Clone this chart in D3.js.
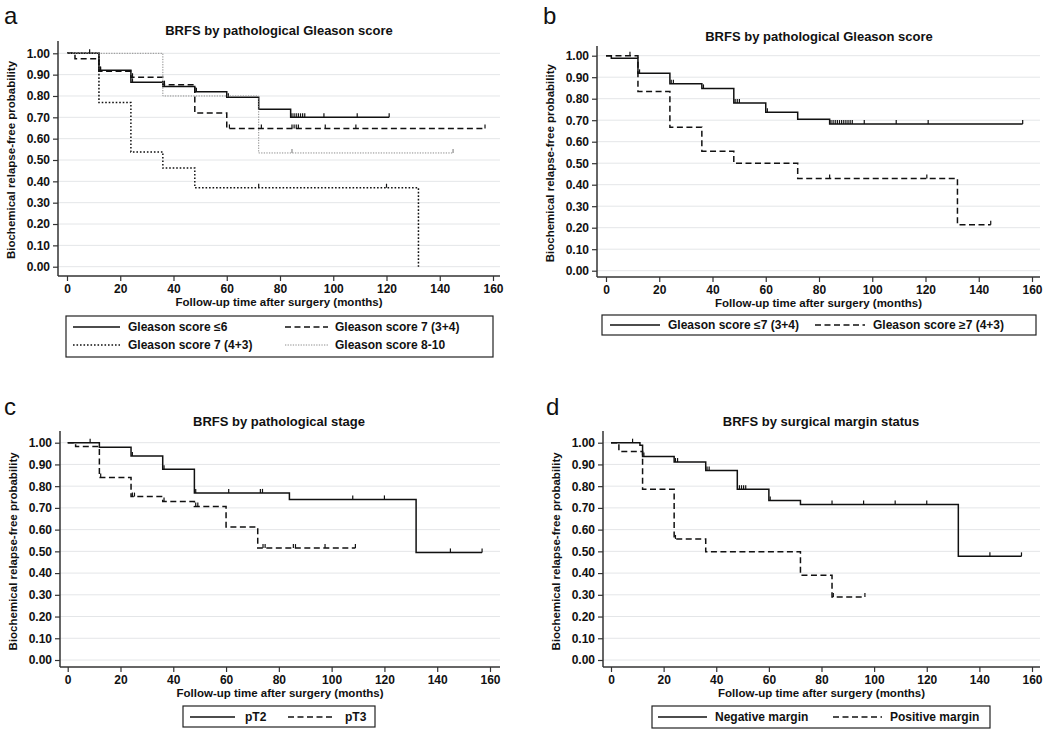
<!DOCTYPE html>
<html>
<head>
<meta charset="utf-8">
<script src="https://cdn.jsdelivr.net/npm/d3@7"></script>
<style>
body { margin: 0; background: #fff; }
svg { display: block; font-family: "Liberation Sans", Arial, Helvetica, sans-serif; }
</style>
</head>
<body>
<svg id="chart" width="1050" height="736"></svg>
<script>
// ---- data ----
const xTicks = [0, 20, 40, 60, 80, 100, 120, 140, 160];
const yTicks = [0, 0.1, 0.2, 0.3, 0.4, 0.5, 0.6, 0.7, 0.8, 0.9, 1.0];
const xTitle = "Follow-up time after surgery (months)";
const yTitle = "Biochemical relapse-free probability";

// a: by pathological Gleason score (4 groups)
const aLabels = ["Gleason score \u22646", "Gleason score 7 (3+4)", "Gleason score 7 (4+3)", "Gleason score 8-10"];
const aLe6Times = [0, 12, 24, 36, 48, 60, 72, 84, 121];
const aLe6Surv = [1, 0.92, 0.864, 0.844, 0.82, 0.794, 0.738, 0.70, 0.70];
const aLe6Cens = [8.5, 12.6, 24.6, 36.6, 48.6, 60.6, 84.5, 85.3, 86.1, 86.9, 87.7, 88.5, 89.3, 96.5, 109, 121];
const a34Times = [0, 3, 12, 24, 36, 48, 60, 157];
const a34Surv = [1, 0.975, 0.916, 0.888, 0.853, 0.72, 0.648, 0.648];
const a34Cens = [12.6, 24.6, 36.6, 61, 73, 84.5, 85.3, 86.1, 86.9, 97, 108.5, 157];
const a43Times = [0, 12, 24, 36, 48, 132];
const a43Surv = [1, 0.769, 0.538, 0.462, 0.37, 0];
const a43Cens = [72, 120];
const a810Times = [0, 36, 72, 145];
const a810Surv = [1, 0.8, 0.533, 0.533];
const a810Cens = [84.5, 145];

// b: Gleason <=7 (3+4) vs >=7 (4+3)
const bLabels = ["Gleason score \u22647 (3+4)", "Gleason score \u22657 (4+3)"];
const bLowTimes = [0, 2, 12, 24, 36, 48, 60, 72, 84, 156.5];
const bLowSurv = [1, 0.988, 0.918, 0.87, 0.848, 0.78, 0.737, 0.704, 0.682, 0.682];
const bLowCens = [12.6, 24.5, 25.3, 36.6, 48.5, 49.3, 50.1, 60.6, 84.5, 85.3, 86.1, 86.9, 87.7, 88.5, 89.3, 90.1, 90.9, 91.7, 92.5, 97, 109, 121, 156.5];
const bHighTimes = [0, 12, 24, 36, 48, 72, 132, 144.5];
const bHighSurv = [1, 0.833, 0.667, 0.556, 0.5, 0.429, 0.214, 0.214];
const bHighCens = [9, 84, 120.5, 144.5];

// c: by pathological stage
const cLabels = ["pT2", "pT3"];
const cT2Times = [0, 12, 24, 36, 48, 84, 132, 157];
const cT2Surv = [1, 0.979, 0.939, 0.878, 0.769, 0.739, 0.495, 0.495];
const cT2Cens = [8.5, 24.5, 36.5, 48.5, 61, 73, 73.8, 108, 120, 145, 157];
const cT3Times = [0, 3, 12, 24, 36, 48, 60, 72, 109];
const cT3Surv = [1, 0.982, 0.84, 0.752, 0.729, 0.706, 0.612, 0.515, 0.515];
const cT3Cens = [12.5, 24.5, 25.3, 36.5, 48.5, 49.3, 74, 74.8, 85.5, 86.3, 97.5, 109];

// d: by surgical margin status
const dLabels = ["Negative margin", "Positive margin"];
const dNegTimes = [0, 11, 12, 24, 36, 48, 60, 72, 132, 156];
const dNegSurv = [1, 0.988, 0.936, 0.911, 0.872, 0.786, 0.734, 0.716, 0.477, 0.477];
const dNegCens = [8.2, 12.5, 24.5, 25.3, 36.5, 37.3, 48.8, 49.6, 50.4, 51.2, 60.5, 84, 96, 108, 120, 144, 156];
const dPosTimes = [0, 3, 12, 24, 36, 72, 84, 96.5];
const dPosSurv = [1, 0.96, 0.786, 0.557, 0.498, 0.39, 0.29, 0.29];
const dPosCens = [24.5, 84.5, 96.5];

// ---- styles ----
const styles = {
  solid:  { stroke: "#111", width: 1.5, dash: null },
  dashed: { stroke: "#111", width: 1.5, dash: "6,3.5" },
  dotted: { stroke: "#111", width: 1.5, dash: "1.6,1.9" },
  gray:   { stroke: "#8c8c8c", width: 1, dash: "1.3,1.3" }
};

const panels = [
  { letter: "a", title: "BRFS by pathological Gleason score",
    series: [
      { t: aLe6Times, s: aLe6Surv, c: aLe6Cens, label: aLabels[0], style: "solid" },
      { t: a34Times, s: a34Surv, c: a34Cens, label: aLabels[1], style: "dashed" },
      { t: a43Times, s: a43Surv, c: a43Cens, label: aLabels[2], style: "dotted" },
      { t: a810Times, s: a810Surv, c: a810Cens, label: aLabels[3], style: "gray" }
    ],
    lay: { x0: 67, x160: 493, y1: 53.3, y0: 266.7, axisX: 58, axisTop: 41, axisY: 276, right: 500,
      titleX: 279, titleY: 35, letterX: 4, letterY: 24,
      legend: { x: 66, y: 316, w: 427, h: 41, items: [
        { x1: 73, x2: 120, tx: 128, ty: 331 }, { x1: 285, x2: 328, tx: 335, ty: 331 },
        { x1: 73, x2: 120, tx: 128, ty: 349 }, { x1: 285, x2: 328, tx: 335, ty: 349 } ] } } },
  { letter: "b", title: "BRFS by pathological Gleason score",
    series: [
      { t: bLowTimes, s: bLowSurv, c: bLowCens, label: bLabels[0], style: "solid" },
      { t: bHighTimes, s: bHighSurv, c: bHighCens, label: bLabels[1], style: "dashed" }
    ],
    lay: { x0: 606, x160: 1032, y1: 55.7, y0: 270.7, axisX: 597, axisTop: 46, axisY: 277, right: 1040,
      titleX: 819, titleY: 41, letterX: 543, letterY: 24,
      legend: { x: 602, y: 315, w: 434, h: 20, items: [
        { x1: 610, x2: 660, tx: 668, ty: 329 }, { x1: 815, x2: 865, tx: 873, ty: 329 } ] } } },
  { letter: "c", title: "BRFS by pathological stage",
    series: [
      { t: cT2Times, s: cT2Surv, c: cT2Cens, label: cLabels[0], style: "solid" },
      { t: cT3Times, s: cT3Surv, c: cT3Cens, label: cLabels[1], style: "dashed" }
    ],
    lay: { x0: 67.7, x160: 490, y1: 442.7, y0: 660, axisX: 60, axisTop: 431, axisY: 667, right: 500,
      titleX: 279, titleY: 426, letterX: 4, letterY: 415,
      legend: { x: 183, y: 706, w: 192, h: 21, items: [
        { x1: 190, x2: 235, tx: 245, ty: 721 }, { x1: 288, x2: 332, tx: 345, ty: 721 } ] } } },
  { letter: "d", title: "BRFS by surgical margin status",
    series: [
      { t: dNegTimes, s: dNegSurv, c: dNegCens, label: dLabels[0], style: "solid" },
      { t: dPosTimes, s: dPosSurv, c: dPosCens, label: dLabels[1], style: "dashed" }
    ],
    lay: { x0: 611, x160: 1032, y1: 442.7, y0: 660, axisX: 603, axisTop: 431, axisY: 667, right: 1040,
      titleX: 821, titleY: 426, letterX: 546, letterY: 415,
      legend: { x: 652, y: 706, w: 338, h: 22, items: [
        { x1: 658, x2: 707, tx: 715, ty: 721 }, { x1: 833, x2: 882, tx: 890, ty: 721 } ] } } }
];

const svg = d3.select("#chart");
svg.append("rect").attr("width", 1050).attr("height", 736).attr("fill", "#fff");

function survAt(times, surv, t) {
  let v = surv[0];
  for (let i = 0; i < times.length; i++) if (times[i] <= t) v = surv[i];
  return v;
}

function drawPanel(p) {
  const L = p.lay;
  const g = svg.append("g");
  const x = d3.scaleLinear().domain([0, 160]).range([L.x0, L.x160]);
  const y = d3.scaleLinear().domain([0, 1]).range([L.y0, L.y1]);

  // grid
  g.append("g").selectAll("line").data(yTicks).enter().append("line")
    .attr("x1", L.axisX).attr("x2", L.right)
    .attr("y1", d => y(d)).attr("y2", d => y(d))
    .attr("stroke", "#e4e6e8").attr("stroke-width", 1);

  // axes
  const yAx = g.append("g").attr("transform", `translate(${L.axisX},0)`)
    .call(d3.axisLeft(y).tickValues(yTicks).tickFormat(d3.format(".2f")).tickSize(5).tickSizeOuter(0).tickPadding(3));
  const xAx = g.append("g").attr("transform", `translate(0,${L.axisY})`)
    .call(d3.axisBottom(x).tickValues(xTicks).tickSize(5).tickSizeOuter(0).tickPadding(3));
  [yAx, xAx].forEach(a => {
    a.select(".domain").remove();
    a.selectAll(".tick line").attr("stroke", "#333").attr("stroke-width", 1.2);
    a.selectAll(".tick text").attr("fill", "#111").style("font-size", "12px").style("font-weight", "bold");
  });
  g.append("line").attr("x1", L.axisX).attr("x2", L.axisX).attr("y1", L.axisTop).attr("y2", L.axisY)
    .attr("stroke", "#333").attr("stroke-width", 1.5);
  g.append("line").attr("x1", L.axisX).attr("x2", L.right).attr("y1", L.axisY).attr("y2", L.axisY)
    .attr("stroke", "#333").attr("stroke-width", 1.5);

  // titles
  g.append("text").attr("x", L.letterX).attr("y", L.letterY).text(p.letter)
    .style("font-size", "24px").attr("fill", "#111");
  g.append("text").attr("x", L.titleX).attr("y", L.titleY).attr("text-anchor", "middle").text(p.title)
    .style("font-size", "13px").style("font-weight", "bold").attr("fill", "#111");
  g.append("text").attr("x", (L.axisX + L.right) / 2).attr("y", L.axisY + 30).attr("text-anchor", "middle")
    .text(xTitle).style("font-size", "11.5px").style("font-weight", "bold").attr("fill", "#111");
  const ym = (L.y0 + L.y1) / 2;
  g.append("text").attr("transform", `translate(${L.axisX - 43},${ym}) rotate(-90)`).attr("text-anchor", "middle")
    .text(yTitle).style("font-size", "11.5px").style("font-weight", "bold").attr("fill", "#111");

  // curves
  const line = d3.line().x(d => x(d[0])).y(d => y(d[1])).curve(d3.curveStepAfter);
  p.series.forEach(s => {
    const st = styles[s.style];
    const pts = s.t.map((t, i) => [t, s.s[i]]);
    g.append("path").attr("d", line(pts)).attr("fill", "none")
      .attr("stroke", st.stroke).attr("stroke-width", st.width)
      .attr("stroke-dasharray", st.dash);
    g.append("g").selectAll("line").data(s.c).enter().append("line")
      .attr("x1", d => x(d)).attr("x2", d => x(d))
      .attr("y1", d => y(survAt(s.t, s.s, d))).attr("y2", d => y(survAt(s.t, s.s, d)) - 4)
      .attr("stroke", st.stroke).attr("stroke-width", 1.2);
  });

  // legend
  const lg = L.legend;
  g.append("rect").attr("x", lg.x).attr("y", lg.y).attr("width", lg.w).attr("height", lg.h)
    .attr("fill", "none").attr("stroke", "#222").attr("stroke-width", 1.2);
  p.series.forEach((s, i) => {
    const it = lg.items[i];
    const st = styles[s.style];
    g.append("line").attr("x1", it.x1).attr("x2", it.x2).attr("y1", it.ty - 4).attr("y2", it.ty - 4)
      .attr("stroke", st.stroke).attr("stroke-width", st.width).attr("stroke-dasharray", st.dash);
    g.append("text").attr("x", it.tx).attr("y", it.ty).text(s.label)
      .style("font-size", "12px").style("font-weight", "bold").attr("fill", "#111");
  });
}

panels.forEach(drawPanel);
</script>
</body>
</html>
